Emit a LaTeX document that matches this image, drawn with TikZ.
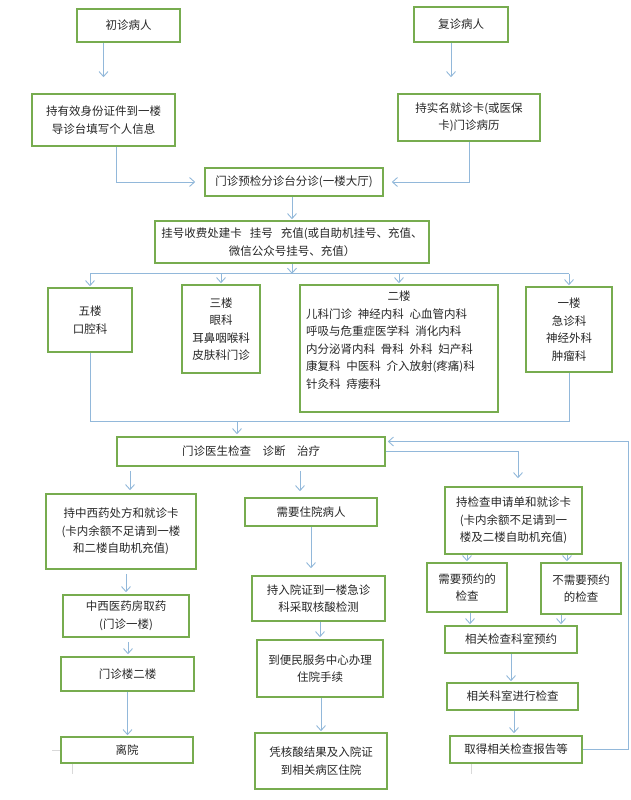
\documentclass[tikz,border=0pt]{standalone}
\usepackage{fontspec}
\setmainfont{Noto Sans CJK SC}
\usetikzlibrary{arrows.meta}
\definecolor{boxgreen}{RGB}{119,172,79}
\definecolor{flowblue}{RGB}{146,184,218}

\begin{document}
\begin{tikzpicture}[x=1pt,y=-1pt,>={Straight Barb[length=5pt,width=9pt]},
                    font=\fontsize{11.5}{17.5}\selectfont]

  \tikzstyle{box}=[rectangle,draw=boxgreen,line width=1.6pt,align=center,
                   text=black!85,inner sep=3pt]
  \tikzstyle{flow}=[->,draw=flowblue,line width=0.9pt]
  \tikzstyle{wire}=[draw=flowblue,line width=0.9pt]

  \useasboundingbox (0,0) rectangle (631,800);

  \node[box,minimum width=103pt,minimum height=33pt] (chuzhen) at (128.5,25.5) {初诊病人};
  \node[box,minimum width=94pt,minimum height=35pt]  (fuzhen)  at (461,24.5)  {复诊病人};
  \node[box,minimum width=143pt,minimum height=52pt] (chiyou)  at (103.5,120) {持有效身份证件到一楼\\导诊台填写个人信息};
  \node[box,minimum width=142pt,minimum height=47pt] (chishi)  at (469,117.5) {持实名就诊卡(或医保\\卡)门诊病历};
  \node[box,minimum width=178pt,minimum height=28pt] (yujian)  at (294,182)   {门诊预检分诊台分诊(一楼大厅)};
  \node[box,minimum width=274pt,minimum height=42pt] (guahao)  at (292,242)   {挂号收费处建卡\hspace{0.7em}挂号\hspace{0.7em}充值(或自助机挂号、充值、\\微信公众号挂号、充值）};

  \node[box,minimum width=84pt,minimum height=64pt]  (wulou)   at (90,320)    {五楼\\口腔科};
  \node[box,minimum width=78pt,minimum height=88pt]  (sanlou)  at (221,329)   {三楼\\眼科\\耳鼻咽喉科\\皮肤科门诊};
  \node[box,minimum width=198pt,minimum height=127pt,align=left,text width=186pt]
                                                     (erlou)   at (399,348.5)
    {\hspace*{\fill}二楼\hspace*{\fill}\mbox{}\\
     儿科门诊\hspace{0.5em}神经内科\hspace{0.5em}心血管内科\\
     呼吸与危重症医学科\hspace{0.5em}消化内科\\
     内分泌肾内科\hspace{0.5em}骨科\hspace{0.5em}外科\hspace{0.5em}妇产科\\
     康复科\hspace{0.5em}中医科\hspace{0.5em}介入放射(疼痛)科\\
     针灸科\hspace{0.5em}痔瘘科\\ \null};
  \node[box,minimum width=86pt,minimum height=85pt]  (yilou)   at (569,329.5) {一楼\\急诊科\\神经外科\\肿瘤科};

  \node[box,minimum width=268pt,minimum height=29pt] (yisheng) at (251,451.5) {门诊医生检查\quad 诊断\quad 治疗};

  \node[box,minimum width=150pt,minimum height=75pt] (yaofang) at (121,531.5) {持中西药处方和就诊卡\\(卡内余额不足请到一楼\\和二楼自助机充值)};
  \node[box,minimum width=126pt,minimum height=42pt] (quyao)   at (126,616)   {中西医药房取药\\(门诊一楼)};
  \node[box,minimum width=133pt,minimum height=34pt] (menzhen) at (127.5,674) {门诊楼二楼};
  \node[box,minimum width=132pt,minimum height=26pt] (liyuan)  at (127,750)   {离院};

  \node[box,minimum width=132pt,minimum height=28pt] (zhuyuan) at (311,512)   {需要住院病人};
  \node[box,minimum width=133pt,minimum height=45pt] (ruyuan)  at (318.5,598.5) {持入院证到一楼急诊\\科采取核酸检测};
  \node[box,minimum width=126pt,minimum height=57pt] (bianmin) at (320,668.5) {到便民服务中心办理\\住院手续};
  \node[box,minimum width=132pt,minimum height=56pt] (bingqu)  at (321,761)   {凭核酸结果及入院证\\到相关病区住院};

  \node[box,minimum width=137pt,minimum height=67pt] (jiancha) at (513.5,520.5) {持检查申请单和就诊卡\\(卡内余额不足请到一\\楼及二楼自助机充值)};
  \node[box,minimum width=80pt,minimum height=49pt]  (yuyue)   at (467,587.5) {需要预约的\\检查};
  \node[box,minimum width=80pt,minimum height=51pt]  (wuyuyue) at (581,588.5) {不需要预约\\的检查};
  \node[box,minimum width=132pt,minimum height=27pt] (keshi)   at (511,639.5) {相关检查科室预约};
  \node[box,minimum width=131pt,minimum height=27pt] (jinxing) at (512.5,696.5) {相关科室进行检查};
  \node[box,minimum width=132pt,minimum height=27pt] (baogao)  at (516,749.5) {取得相关检查报告等};

  \coordinate (bus)  at ([yshift=-10pt]guahao.south);
  \coordinate (join) at ([xshift=-14pt,yshift=15pt]yisheng.north);

  \draw[flow,shorten >=16pt] (chiyou.north |- chuzhen.south) -- (chiyou.north);
  \draw[flow,shorten >=16pt] ([xshift=-10pt]fuzhen.south) -- ([xshift=-18pt]chishi.north);
  \draw[flow,shorten >=9pt]  ([xshift=12.5pt]chiyou.south) |- (yujian.west);
  \draw[flow,shorten >=8pt]  (chishi.south) |- (yujian.east);
  \draw[flow,shorten >=1pt]  (yujian.south -| guahao.north) -- (guahao.north);
  \draw[flow]                (guahao.south) -- (bus);
  \draw[wire]                (wulou.north |- bus) -- (yilou.north |- bus);
  \foreach \n in {wulou,sanlou,erlou,yilou}
    \draw[flow,shorten >=1pt] (\n.north |- bus) -- (\n.north);

  \draw[wire] (wulou.south) |- (yilou.south |- join) -- (yilou.south);
  \draw[flow,shorten >=2pt] (join) -- (join |- yisheng.north);

  \draw[flow,shorten <=4pt,shorten >=3pt] ([xshift=9pt]yaofang.north |- yisheng.south) -- ([xshift=9pt]yaofang.north);
  \draw[flow,shorten <=4pt,shorten >=6pt] ([xshift=-11pt]zhuyuan.north |- yisheng.south) -- ([xshift=-11pt]zhuyuan.north);
  \draw[flow,shorten >=8pt] (yisheng.east) -| ([xshift=4.5pt]jiancha.north);
  \draw[flow,shorten >=2pt] (baogao.east) -- ++(46,0) |- ([yshift=10pt]yisheng.east);

  \draw[flow,shorten <=4pt,shorten >=2pt] (quyao.north |- yaofang.south) -- (quyao.north);
  \draw[flow,shorten <=4pt,shorten >=2pt] ([xshift=2pt]quyao.south) -- ([xshift=2pt]quyao.south |- menzhen.north);
  \draw[flow,shorten >=1pt] (menzhen.south) -- (menzhen.south |- liyuan.north);

  \draw[flow,shorten >=7pt] (zhuyuan.south) -- (zhuyuan.south |- ruyuan.north);
  \draw[flow,shorten >=2pt] ([xshift=1.5pt]ruyuan.south) -- ([xshift=1.5pt]ruyuan.south |- bianmin.north);
  \draw[flow,shorten >=1pt] ([xshift=1pt]bianmin.south) -- ([xshift=1pt]bianmin.south |- bingqu.north);

  \draw[flow,shorten >=1pt] (yuyue.north |- jiancha.south) -- (yuyue.north);
  \draw[flow,shorten >=1pt] ([xshift=-14pt]wuyuyue.north |- jiancha.south) -- ([xshift=-14pt]wuyuyue.north);
  \draw[flow,shorten >=1pt] ([xshift=3pt]yuyue.south) -- ([xshift=3pt]yuyue.south |- keshi.north);
  \draw[flow,shorten >=1pt] ([xshift=-20pt]wuyuyue.south) -- ([xshift=-20pt]wuyuyue.south |- keshi.north);
  \draw[flow,shorten >=1pt] (keshi.south) -- (keshi.south |- jinxing.north);
  \draw[flow,shorten >=2pt] ([xshift=1.5pt]jinxing.south) -- ([xshift=1.5pt]jinxing.south |- baogao.north);

  \draw[gray!30,line width=0.6pt] ([xshift=-8pt]liyuan.west) -- (liyuan.west);
  \draw[gray!30,line width=0.6pt] ([xshift=-55pt]liyuan.south) -- ++(0,10);
  \draw[gray!30,line width=0.6pt] ([xshift=22pt]baogao.south west) -- ++(0,10);
\end{tikzpicture}
\end{document}
